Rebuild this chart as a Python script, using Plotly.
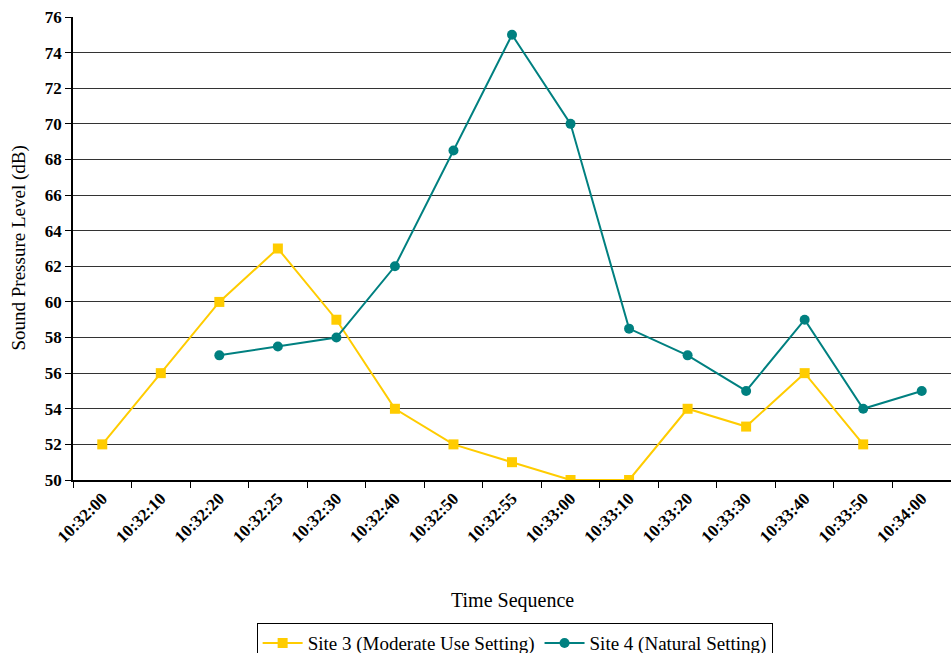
import plotly.graph_objects as go

# Time stamps along the sequence (category axis)
times = ["10:32:00", "10:32:10", "10:32:20", "10:32:25", "10:32:30",
         "10:32:40", "10:32:50", "10:32:55", "10:33:00", "10:33:10",
         "10:33:20", "10:33:30", "10:33:40", "10:33:50", "10:34:00"]

# Sound pressure level readings in dB (None = no reading)
site3 = [52, 56, 60, 63, 59, 54, 52, 51, 50, 50, 54, 53, 56, 52, None]
site4 = [None, None, 57, 57.5, 58, 62, 68.5, 75, 70, 58.5, 57, 55, 59, 54, 55]

y_ticks = list(range(50, 77, 2))

FONT = "Liberation Serif"

fig = go.Figure()
fig.add_trace(go.Scatter(
    x=times, y=site3, mode="lines+markers",
    name="Site 3 (Moderate Use Setting)",
    line=dict(color="#FFCC00", width=2),
    marker=dict(symbol="square", size=10, color="#FFCC00"),
    connectgaps=False,
))
fig.add_trace(go.Scatter(
    x=times, y=site4, mode="lines+markers",
    name="Site 4 (Natural Setting)",
    line=dict(color="#008080", width=2),
    marker=dict(symbol="circle", size=10, color="#008080"),
    connectgaps=False,
))

fig.update_layout(
    width=951, height=653,
    margin=dict(l=73, r=0, t=17, b=173, autoexpand=False),
    paper_bgcolor="white", plot_bgcolor="white",
    font=dict(family=FONT, color="black", size=14),
    showlegend=True,
    legend=dict(
        orientation="h", x=0.503, xanchor="center", y=-0.309, yanchor="top",
        bordercolor="black", borderwidth=1,
        font=dict(family=FONT, size=19, color="black"),
        itemwidth=40, tracegroupgap=0,
    ),
    xaxis=dict(
        type="category", categoryorder="array", categoryarray=times,
        tickson="boundaries", ticks="outside", ticklen=6, tickcolor="black",
        showline=True, linecolor="black", linewidth=1.5,
        showgrid=False, tickangle=-45, automargin=False,
        tickfont=dict(family=FONT, size=17, color="black", weight="bold"),
        range=[-0.5, 14.5],
    ),
    yaxis=dict(
        range=[50, 76], tickvals=y_ticks, ticks="outside", ticklen=6,
        tickcolor="black", showline=True, linecolor="black", linewidth=1.5,
        showgrid=True, gridcolor="#333333", gridwidth=1, automargin=False,
        tickfont=dict(family=FONT, size=17, color="black", weight="bold"),
        zeroline=False,
    ),
    annotations=[
        dict(
            text="Time Sequence", xref="paper", yref="paper",
            x=0.5, y=-0.2613, xanchor="center", yanchor="middle",
            showarrow=False, font=dict(family=FONT, size=20, color="black"),
        ),
        dict(
            text="Sound Pressure Level (dB)", xref="paper", yref="paper",
            x=-0.0626, y=0.5, xanchor="center", yanchor="middle", textangle=-90,
            showarrow=False, font=dict(family=FONT, size=19, color="black"),
        ),
    ],
)

fig.write_html("out.html")
